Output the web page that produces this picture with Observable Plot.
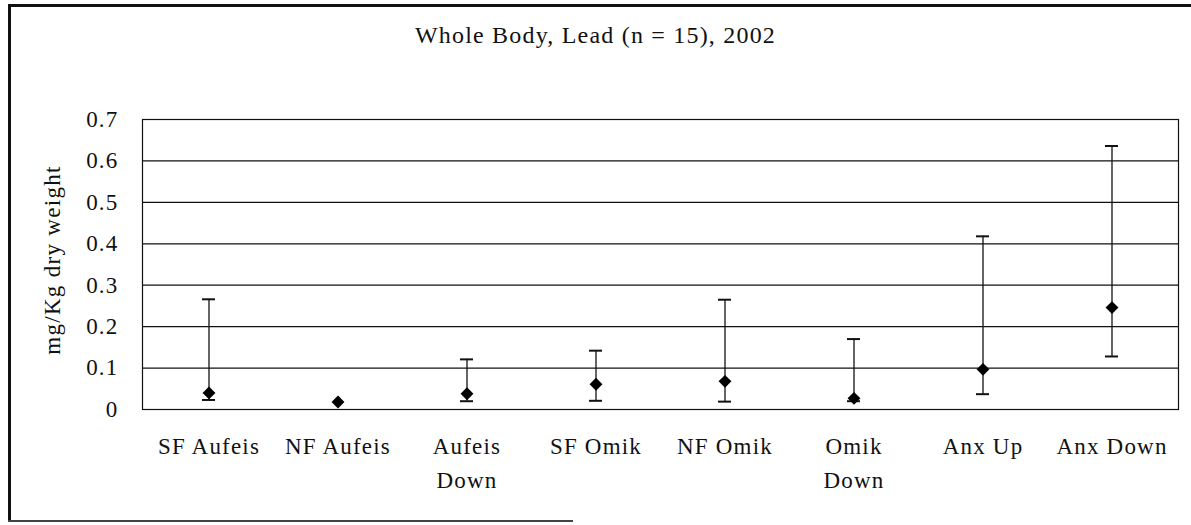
<!DOCTYPE html>
<html>
<head>
<meta charset="utf-8">
<script src="https://cdn.jsdelivr.net/npm/d3@7"></script>
<script src="https://cdn.jsdelivr.net/npm/@observablehq/plot@0.6"></script>
<style>
  html, body { margin: 0; padding: 0; background: #fff; }
  #wrap { position: relative; width: 1191px; height: 525px; overflow: hidden; font-family: "Liberation Serif", "Times New Roman", serif; }
  #border { position: absolute; left: 8px; top: 4px; width: 1200px; height: 515px; border-left: 3px solid #111; border-top: 3px solid #111; }
  #bottomline { position: absolute; left: 8px; top: 520px; width: 565px; height: 0; border-top: 2px solid #444; }
  #title { position: absolute; left: 0; width: 1191px; top: 23px; text-align: center; font-size: 24px; line-height: 24px; letter-spacing: 1.2px; color: #111; }
  #ylabel { position: absolute; left: 52px; top: 260px; transform: translate(-50%, -50%) rotate(-90deg); white-space: nowrap; font-size: 23px; line-height: 23px; letter-spacing: 1.3px; color: #111; }
  #chart { position: absolute; left: 0; top: 0; }
</style>
</head>
<body>
<div id="wrap">
  <div id="border"></div>
  <div id="bottomline"></div>
  <div id="title">Whole Body, Lead (n = 15), 2002</div>
  <div id="chart"></div>
  <div id="ylabel">mg/Kg dry weight</div>
</div>
<script>
const categories = ["SF Aufeis", "NF Aufeis", "Aufeis\nDown", "SF Omik", "NF Omik", "Omik\nDown", "Anx Up", "Anx Down"];
const means = [0.040, 0.018, 0.038, 0.061, 0.068, 0.027, 0.097, 0.246];
const highs = [0.266, null, 0.121, 0.142, 0.265, 0.170, 0.418, 0.636];
const lows  = [0.023, null, 0.020, 0.021, 0.019, 0.020, 0.037, 0.128];
const yTicks = [0, 0.1, 0.2, 0.3, 0.4, 0.5, 0.6, 0.7];
const gridValues = [0.1, 0.2, 0.3, 0.4, 0.5, 0.6];

const data = categories.map((c, i) => ({cat: c, mean: means[i], high: highs[i], low: lows[i]}));
const bars = data.filter(d => d.high != null);

const chart = Plot.plot({
  width: 1191,
  height: 525,
  marginTop: 119,
  marginBottom: 116,
  marginLeft: 142,
  marginRight: 13,
  style: { fontFamily: "Liberation Serif, Times New Roman, serif", fontSize: "23px", color: "#111", background: "transparent", letterSpacing: "1.2px" },
  x: { domain: categories, padding: 0 },
  y: { domain: [0, 0.7] },
  marks: [
    Plot.ruleY(gridValues, { stroke: "#111", strokeWidth: 1.2 }),
    Plot.frame({ stroke: "#111", strokeWidth: 1.2 }),
    Plot.axisY({ ticks: yTicks, tickSize: 0, tickPadding: 24, tickFormat: d => d === 0 ? "0" : d.toFixed(1), label: null, fontSize: 23 }),
    Plot.axisX({ tickSize: 0, tickPadding: 20, label: null, lineHeight: 1.5, fontSize: 23 }),
    Plot.ruleX(bars, { x: "cat", y1: "low", y2: "high", stroke: "#111", strokeWidth: 1.3 }),
    Plot.tickY(bars, { x: "cat", y: "high", insetLeft: 58, insetRight: 58, stroke: "#111", strokeWidth: 2 }),
    Plot.tickY(bars, { x: "cat", y: "low", insetLeft: 58, insetRight: 58, stroke: "#111", strokeWidth: 2 }),
    Plot.dot(data, { x: "cat", y: "mean", symbol: "diamond2", r: 5.8, fill: "#000", stroke: "none" })
  ]
});
document.getElementById("chart").appendChild(chart);
</script>
</body>
</html>
